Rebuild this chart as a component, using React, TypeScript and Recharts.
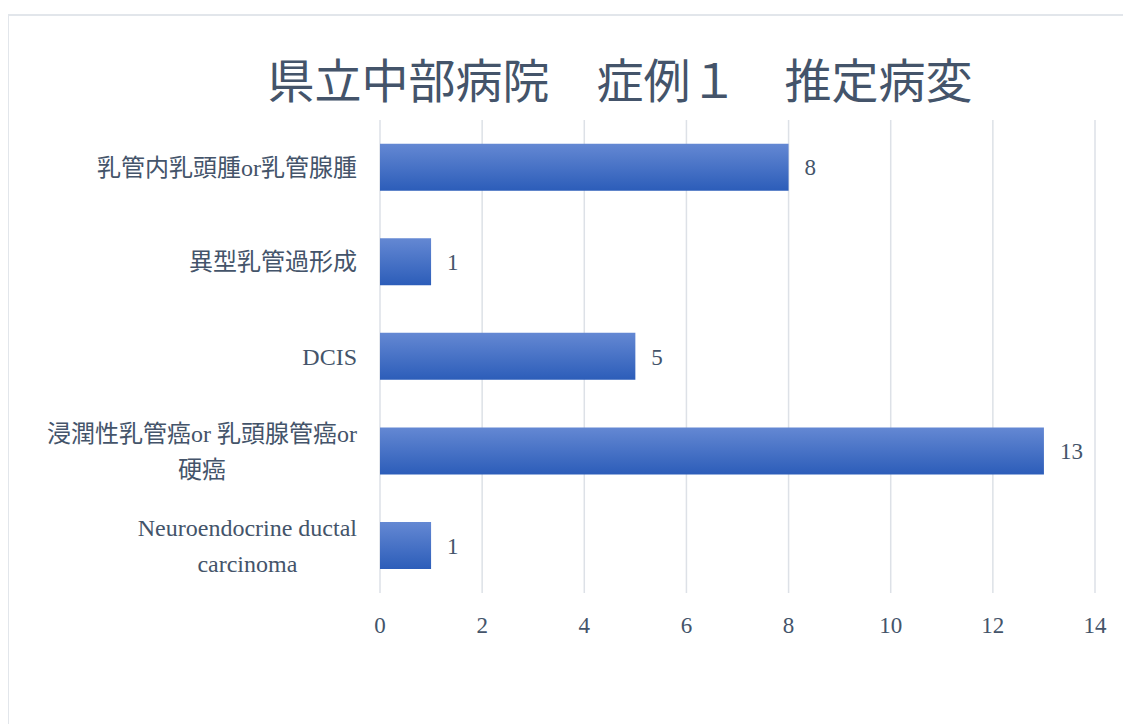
import { BarChart, Bar, XAxis, YAxis, CartesianGrid, LabelList } from 'recharts'

const categories = [
  '乳管内乳頭腫or乳管腺腫',
  '異型乳管過形成',
  'DCIS',
  '浸潤性乳管癌or 乳頭腺管癌or\n硬癌',
  'Neuroendocrine ductal\ncarcinoma',
]
const counts = [8, 1, 5, 13, 1]
const xTicks = [0, 2, 4, 6, 8, 10, 12, 14]
const title = '県立中部病院　症例１　推定病変'

const textColor = '#44546a'
const labelFont = '"Liberation Serif", "Noto Sans CJK JP", serif'
const labelSize = 24

let ctx: CanvasRenderingContext2D | null = null
function measure(s: string) {
  if (!ctx) ctx = document.createElement('canvas').getContext('2d')
  if (!ctx) return s.length * labelSize * 0.6
  ctx.font = `${labelSize}px ${labelFont}`
  return ctx.measureText(s).width
}

function CategoryTick(props: any) {
  const { x, y, payload } = props
  const lines: string[] = String(payload.value).split('\n')
  const w = Math.max(...lines.map(measure))
  const cx = x - w / 2
  const lh = 36
  return (
    <text x={cx} y={y} textAnchor="middle" fill={textColor} fontSize={labelSize} fontFamily={labelFont}>
      {lines.map((l, i) => (
        <tspan key={i} x={cx} y={y + (i - (lines.length - 1) / 2) * lh} dy="0.35em">
          {l}
        </tspan>
      ))}
    </text>
  )
}

export default function App() {
  const data = categories.map((name, i) => ({ name, value: counts[i] }))
  return (
    <div style={{ position: 'relative', width: 1131, height: 724, margin: '-8px 0 0 -8px', overflow: 'hidden', background: '#fff' }}>
      <div style={{ position: 'absolute', left: 7, top: 14, width: 1300, height: 900, border: '2px solid #e2e6eb', boxSizing: 'border-box' }} />
      <div
        style={{
          position: 'absolute',
          left: 620,
          top: 54,
          transform: 'translateX(-50%)',
          whiteSpace: 'nowrap',
          fontFamily: '"Noto Sans CJK JP", sans-serif',
          fontSize: 47,
          lineHeight: '47px',
          color: textColor,
        }}
      >
        {title}
      </div>
      <div style={{ position: 'absolute', left: 0, top: 0 }}>
        <BarChart
          width={1131}
          height={724}
          data={data}
          layout="vertical"
          margin={{ top: 120, right: 36, left: 0, bottom: 101 }}
          barCategoryGap="25%"
        >
          <defs>
            <linearGradient id="barFill" x1="0" y1="0" x2="0" y2="1">
              <stop offset="0%" stopColor="#6488d3" />
              <stop offset="100%" stopColor="#2c5db9" />
            </linearGradient>
          </defs>
          <CartesianGrid horizontal={false} stroke="#dde1e7" strokeWidth={1.5} />
          <XAxis
            type="number"
            domain={[0, 14]}
            ticks={xTicks}
            axisLine={false}
            tickLine={false}
            tickSize={0}
            tickMargin={24}
            height={30}
            tick={{ fill: textColor, fontSize: 23, fontFamily: labelFont }}
          />
          <YAxis
            type="category"
            dataKey="name"
            width={380}
            axisLine={false}
            tickLine={false}
            tickSize={0}
            tickMargin={23}
            tick={<CategoryTick />}
          />
          <Bar dataKey="value" fill="url(#barFill)" isAnimationActive={false}>
            <LabelList dataKey="value" position="right" offset={16} fill={textColor} fontSize={23} fontFamily={labelFont} />
          </Bar>
        </BarChart>
      </div>
    </div>
  )
}
